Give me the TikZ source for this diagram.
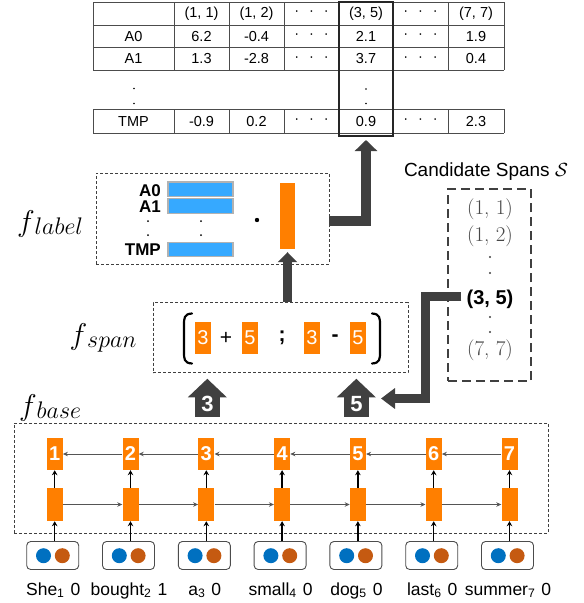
\RequirePackage{fix-cm}
\documentclass[tikz,border=0pt]{standalone}
\usepackage[no-math]{fontspec}
\newfontfamily\sans{Liberation Sans}
\usetikzlibrary{arrows.meta,calc}
\definecolor{org}{HTML}{FF7F00}
\definecolor{bl}{HTML}{36A9FF}
\definecolor{dk}{HTML}{404040}
\definecolor{cb}{HTML}{0070C0}
\definecolor{cr}{HTML}{C55A11}
\definecolor{gr}{HTML}{555555}
\newcommand\fs[1]{\fontsize{#1}{#1}\selectfont}
\newcommand\tdots{\textperiodcentered\hspace{10pt}\textperiodcentered\hspace{10pt}\textperiodcentered}
\newcommand\trow[9]{%
  \node[tt] (#2-1) at (133.5,#1) {#3};
  \node[tt] (#2-2) at (201.5,#1) {#4};
  \node[tt] (#2-3) at (256.5,#1) {#5};
  \node[tt] (#2-4) at (311.5,#1) {#6};
  \node[tt] (#2-5) at (366,#1) {#7};
  \node[tt] (#2-6) at (420.5,#1) {#8};
  \node[tt] (#2-7) at (476,#1) {#9};}
\begin{document}
\begin{tikzpicture}[x=1pt,y=-1pt,
  tline/.style={draw=black!70,line width=0.8pt},
  tt/.style={font=\sans\fs{14.5},inner sep=0pt},
  dbox/.style={draw=black!75,line width=0.9pt,dash pattern=on 3pt off 2pt,inner sep=0pt},
  cbox/.style={draw=dk,line width=1.6pt,dash pattern=on 9pt off 5pt,inner sep=0pt},
  bigarr/.style={draw=dk,line width=10pt,-{Triangle[length=11pt,width=22pt]}},
  flbl/.style={font=\sans\bfseries\fs{17},inner sep=0pt,anchor=east},
  bar/.style={fill=bl,draw=black!30,line width=1.2pt,minimum width=65pt,minimum height=14.5pt,inner sep=0pt},
  onum/.style={fill=org,minimum width=16pt,minimum height=32pt,inner sep=0pt,text=white,font=\sans\fs{20}},
  op/.style={font=\sans\fs{21},inner sep=0pt},
  cent/.style={font=\fs{21},text=black!72,inner sep=0pt},
  cellT/.style={fill=org,minimum width=16pt,minimum height=32pt,inner sep=0pt,text=white,font=\sans\bfseries\fs{20}},
  cellB/.style={fill=org,minimum width=16pt,minimum height=33pt,inner sep=0pt},
  wbox/.style={draw=black!70,line width=0.9pt,rounded corners=4pt,minimum width=52pt,minimum height=28pt,inner sep=0pt},
  dotc/.style={circle,minimum size=15pt,inner sep=0pt},
  harrow/.style={draw=gr,line width=1pt,-{Stealth[length=5pt,width=4.5pt]}},
  varrow/.style={draw=black,line width=1.5pt,-{Stealth[length=5pt,width=5.5pt]}},
  wd/.style={font=\sans\fs{17.5},inner sep=0pt,anchor=base},
  blk/.style={fill=dk,minimum width=25pt,minimum height=20pt,inner sep=0pt},
  blkt/.style={font=\sans\bfseries\fs{22},text=white,inner sep=0pt},
  flab/.style={inner sep=0pt}]
\useasboundingbox (0,0) rectangle (584,603);

% ---------- table ----------
\foreach \y in {2,25,47.7,70,109.3,133.3} \draw[tline] (93,\y) -- (504,\y);
\foreach \x in {93,174,229,284,339,393,448,504} {
  \draw[tline] (\x,2) -- (\x,70);
  \draw[tline] (\x,109.3) -- (\x,133.3);}
\trow{13.5}{h}{}{(1, 1)}{(1, 2)}{\tdots}{(3, 5)}{\tdots}{(7, 7)}
\trow{36.3}{a0}{A0}{6.2}{-0.4}{\tdots}{2.1}{\tdots}{1.9}
\trow{58.9}{a1}{A1}{1.3}{-2.8}{\tdots}{3.7}{\tdots}{0.4}
\trow{121.3}{tmp}{TMP}{-0.9}{0.2}{\tdots}{0.9}{\tdots}{2.3}
\foreach \p in {(134,88.5),(134,103.5),(366,89),(366,103.5)} \fill \p circle (0.9pt);
\node[draw=black!85,line width=2pt,minimum width=54pt,minimum height=134pt,inner sep=0pt] (tcol) at (366,69) {};

% ---------- f_label ----------
\node[dbox,minimum width=233pt,minimum height=91pt] (flabbox) at (212.5,218.5) {};
\node[flab] (flabT) at (50,224) {\fs{30}$f$\raisebox{-3pt}{\fs{24}$label$}};
\node[bar] (b0) at (200.5,189.3) {};
\node[bar] (b1) at (200.5,206) {};
\node[bar] (bt) at (200.5,249.5) {};
\node[flbl] (lA0) at (161,190.7) {A0};
\node[flbl] (lA1) at (161,206.7) {A1};
\node[flbl] (lTMP) at (161,249.5) {TMP};
\foreach \p in {(148,221),(148,235),(201,221),(201,235)} \fill \p circle (1pt);
\fill (257,220) circle (2.2pt);
\node[fill=org,minimum width=15pt,minimum height=66pt,inner sep=0pt] (obar) at (287.5,216) {};
\draw[bigarr] ($(flabbox.east)+(0,2.5)$) -| ($(tcol.south)+(0,3)$);

% ---------- f_span ----------
\node[dbox,minimum width=255pt,minimum height=70pt] (fsp) at (280.5,337.5) {};
\node[flab] (fspT) at (103,338) {\fs{30}$f$\raisebox{-3pt}{\fs{24}$span$}};
\draw[line width=2.2pt,line cap=round] (192,313.5) .. controls (184,314) and (184,318) .. (184,325) -- (184,352) .. controls (184,359) and (184,363) .. (192,363.5);
\draw[line width=2.2pt,line cap=round] (372,313.5) .. controls (380,314) and (380,318) .. (380,325) -- (380,352) .. controls (380,359) and (380,363) .. (372,363.5);
\node[onum] (s1) at (203,338) {3};
\node[op] (plus) at (226,338) {+};
\node[onum] (s2) at (250,338) {5};
\node[op,font=\sans\bfseries\fs{21}] (semi) at (282,338) {;};
\node[onum] (s3) at (312,338) {3};
\node[op,font=\sans\bfseries\fs{21}] (minus) at (335,338) {-};
\node[onum] (s4) at (358,338) {5};
\draw[bigarr,line width=9.5pt,-{Triangle[length=10pt,width=19pt]}] (fsp.north -| obar.south) -- ($(obar.south)+(0,3)$);

% ---------- candidate spans ----------
\node[font=\sans\fs{19},inner sep=0pt] (ctitle) at (486,172) {Candidate Spans $\mathcal{S}$};
\node[cbox,minimum width=83pt,minimum height=192pt] (cand) at (489.5,285) {};
\node[cent] (c11) at (490,209) {(1, 1)};
\node[cent] (c12) at (490,236) {(1, 2)};
\node[cent,text=black,font=\sans\bfseries\fs{20}] (c35) at (490,299) {(3, 5)};
\node[cent] (c77) at (490,350) {(7, 7)};
\foreach \p in {(490,257),(490,273),(490,317),(490,332)} \fill[black!75] \p circle (1.1pt);
\coordinate (k5) at (425.5,398.5);
\coordinate (t5) at (381,398.5);
\draw[bigarr,line width=9pt,-{Triangle[length=14pt,width=20pt]}] ($(c35.west)+(-5,-3)$) -| (k5) -- (t5);

% ---------- block arrows 3 and 5 ----------
\node[blk] (U3) at (207.5,407) {};
\fill[dk] (U3.north west) ++(-7,0.5) -- ++(19.5,-18.5) -- ++(19.5,18.5) -- cycle;
\node[blkt] (U3t) at (207.5,404) {3};
\node[blk] (U5) at (356.5,407) {};
\fill[dk] (U5.north west) ++(-7,0.5) -- ++(19.5,-18.5) -- ++(19.5,18.5) -- cycle;
\node[blkt] (U5t) at (356.5,404) {5};

% ---------- f_base ----------
\node[dbox,minimum width=534pt,minimum height=110pt] (fb) at (281,478) {};
\node[flab] (fbT) at (50,408) {\fs{30}$f$\raisebox{-3pt}{\fs{24}$base$}};
\foreach \w/\s/\n [count=\i] in {She/1/0,bought/2/1,a/3/0,small/4/0,dog/5/0,last/6/0,summer/7/0} {
  \pgfmathsetmacro{\xc}{54.7+75.8*(\i-1)}
  \node[cellT] (T\i) at (\xc,454) {\i};
  \node[cellB] (B\i) at (\xc,504.5) {};
  \node[wbox] (W\i) at (\xc-2,555.5) {};
  \node[dotc,fill=cb] (CB\i) at (\xc-11.2,555.7) {};
  \node[dotc,fill=cr] (CR\i) at (\xc+7.6,555.7) {};
  \draw[varrow] (W\i.north -| B\i.south) -- (B\i.south);
  \draw[varrow] (B\i.north) -- (T\i.south);
  \node[wd] (L\i) at (\xc-1.5,595) {\w\textsubscript{\s}\hspace{6pt}\n};
}
\foreach \i/\j in {1/2,2/3,3/4,4/5,5/6,6/7} {
  \draw[harrow] (T\j.west) -- (T\i.east);
  \draw[harrow] (B\i.east) -- (B\j.west);
}
\end{tikzpicture}
\end{document}
